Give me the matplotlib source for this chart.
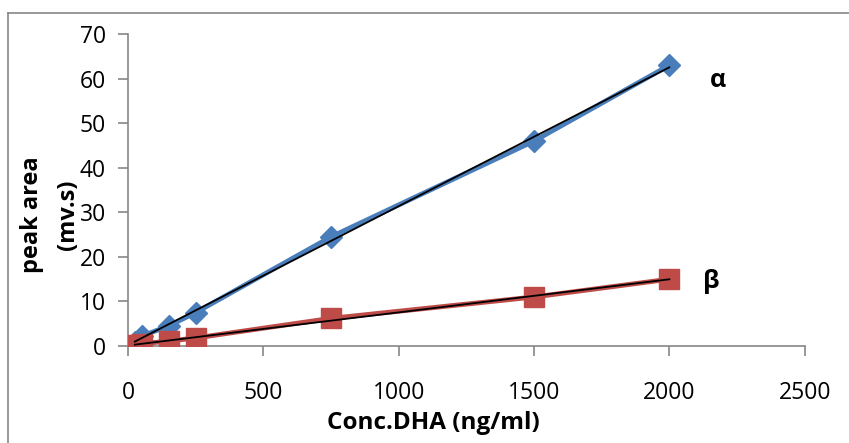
import numpy as np
from matplotlib import pyplot as plt
from matplotlib.lines import Line2D

plt.rcParams["font.family"] = ["Open Sans", "DejaVu Sans"]

# concentrations (ng/ml)
conc = [25, 50, 150, 250, 750, 1500, 2000]
# peak areas (mv.s)
alpha_area = [1.0, 2.2, 4.5, 7.5, 24.5, 46.0, 63.0]
beta_area = [0.3, 0.5, 1.1, 1.8, 6.2, 11.0, 15.0]

x_ticks = [0, 500, 1000, 1500, 2000, 2500]
y_ticks = [0, 10, 20, 30, 40, 50, 60, 70]

fig = plt.figure(figsize=(8.49, 4.43), dpi=100)
ax = fig.add_axes([0.1508, 0.219, 0.797, 0.704])

ax.plot(conc, alpha_area, color="#4A7EBB", linewidth=3.5, marker="D",
        markersize=11, zorder=3)
ax.plot(conc, beta_area, color="#BE4B48", linewidth=3.5, marker="s",
        markersize=14.5, zorder=3)

# linear trendlines
for series in (alpha_area, beta_area):
    slope, icpt = np.polyfit(conc, series, 1)
    xs = np.array([conc[0], conc[-1]])
    ax.plot(xs, slope * xs + icpt, color="black", linewidth=1.3, zorder=4)

ax.set_xlim(0, 2500)
ax.set_ylim(0, 70)
ax.set_xticks(x_ticks)
ax.set_yticks(y_ticks)
ax.tick_params(labelsize=16.5, length=7, color="#868686", width=1.2, pad=9)
ax.tick_params(axis="x", pad=18)
for side in ("top", "right"):
    ax.spines[side].set_visible(False)
for side in ("left", "bottom"):
    ax.spines[side].set_color("#868686")
    ax.spines[side].set_linewidth(1.2)

ax.text(2178, 59.7, "α", fontsize=18, fontweight="bold", ha="center", va="center")
ax.text(2156, 14.4, "β", fontsize=18, fontweight="bold", ha="center", va="center")

fig.text(0.0377, 0.515, "peak area", rotation=90, fontsize=17,
         fontweight="bold", ha="center", va="center")
fig.text(0.080, 0.515, "(mv.s)", rotation=90, fontsize=17,
         fontweight="bold", ha="center", va="center")
fig.text(0.51, 1 - 423 / 443, "Conc.DHA (ng/ml)", fontsize=17.5, fontweight="bold",
         ha="center", va="center")

# outer chart border (left and top edges)
fig.add_artist(Line2D([8 / 849, 8 / 849], [0, 1 - 13 / 443], color="#868686",
                      linewidth=1.2, transform=fig.transFigure))
fig.add_artist(Line2D([8 / 849, 1], [1 - 13 / 443, 1 - 13 / 443], color="#868686",
                      linewidth=1.2, transform=fig.transFigure))

fig.savefig("out.png", dpi=100)
